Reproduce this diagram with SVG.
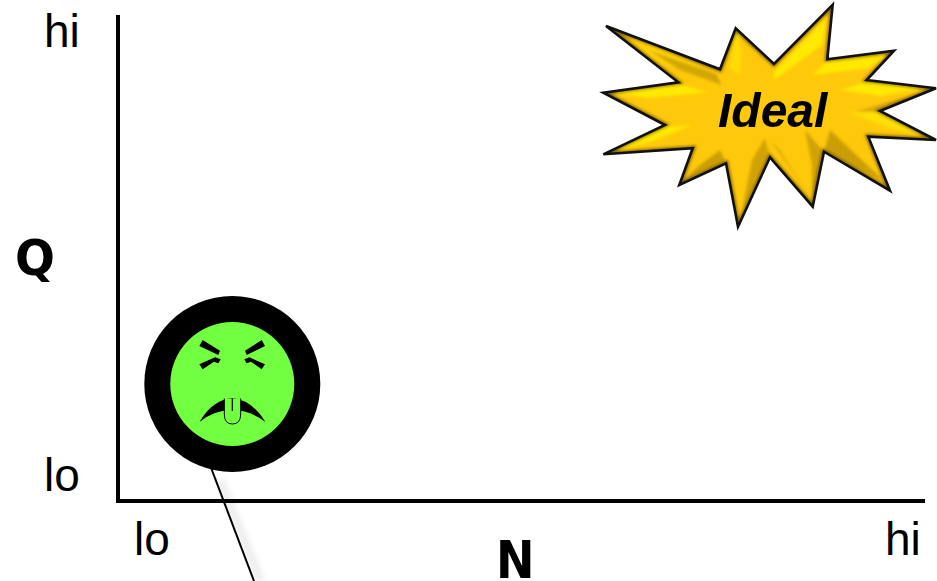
<svg xmlns="http://www.w3.org/2000/svg" width="937" height="581" viewBox="0 0 937 581">
<style>
.t{font-family:"Liberation Sans",Arial,sans-serif;font-size:46px;fill:#000}
.b{font-family:"DejaVu Sans",Verdana,sans-serif;font-weight:bold;fill:#000}
.hl{fill:#FFE900}
.dk{fill:#9A7400}
.ax{stroke:#000;stroke-width:4;fill:none}
</style>
<defs>
<filter id="soft" x="-10%" y="-10%" width="120%" height="120%"><feGaussianBlur stdDeviation="1.8"/></filter>
<filter id="sh" x="-50%" y="-10%" width="200%" height="120%"><feGaussianBlur stdDeviation="3"/></filter>
<polygon id="starShape" points="606,26 720,69.3 735.7,28.3 774,64 832.7,4.7 827.3,59.3 894,50.7 866.7,80 936,88.3 880,111 936,140 868.3,136.7 890,190.7 824,151.7 812.7,206.7 770,157.3 738,226.7 726,163.3 679.3,185 692.7,148.3 603.3,154.3 665,125 603.3,92.7 678.3,82.3"/>
<clipPath id="starClip"><use href="#starShape"/></clipPath>
</defs>
<g id="connectors">
<line x1="220" y1="480" x2="261" y2="581" stroke="#e6e6e6" stroke-width="6" filter="url(#sh)"/>
<line x1="210" y1="465" x2="254" y2="581" stroke="#000" stroke-width="2"/>
</g>
<g id="axes">
<line class="ax" x1="118" y1="15" x2="118" y2="503"/>
<line class="ax" x1="116" y1="501" x2="925" y2="501"/>
<text class="t" x="44" y="47">hi</text>
<text class="t" x="44" y="491">lo</text>
<text class="t" x="134" y="555">lo</text>
<text class="t" x="885" y="555">hi</text>
<text class="b" font-size="47" transform="translate(15 275) scale(1 1.07)">Q</text>
<text class="b" font-size="46" transform="translate(496 578) scale(1 1.13)">N</text>
</g>
<g id="face">
<circle cx="232.3" cy="384" r="88" fill="#000"/>
<circle cx="232.3" cy="384" r="62" fill="#72FF41"/>
<polygon points="202.7,340 220,350.7 218.3,355 199.3,346"/>
<polygon points="199.3,364.3 215,357.3 220.7,359.3 218.3,363.3 214,361.7 202.7,369.3"/>
<polygon points="261.7,340 245,350.7 246.7,355 265,346"/>
<polygon points="265,364.3 249.3,357.3 244.3,359.3 246.7,363.3 251,361.7 261.7,369.3"/>
<path d="M199.5,422Q212,400 232.3,398Q252,400 265.5,422Q250,410 232.3,410Q214,410 199.5,422Z"/>
<path d="M224.3,398.5V414Q224.3,424 232.3,424Q240.7,424 240.7,414V398.5" fill="#72FF41" stroke="#000" stroke-width="1"/>
<line x1="232.3" y1="398.5" x2="232.3" y2="411" stroke="#000" stroke-width="1.2"/>
</g>
<g id="ideal">
<use href="#starShape" fill="#FFC90B"/>
<g clip-path="url(#starClip)">
<g filter="url(#soft)">
<polygon class="hl" points="735.7,28.3 741,50 740,75 730,68" opacity=".6"/>
<polygon class="hl" points="826,18 774,72 774,80 822,45"/>
<polygon class="hl" points="885,56 827,62 812,75 868,68"/>
<polygon class="hl" points="925,88 866,82 840,90 880,96"/>
<polygon class="hl" points="678,84 612,93 650,98 708,92"/>
<polygon class="hl" points="665,127 615,151 650,142 692,125"/>
<polygon class="hl" points="880,113 925,136 890,128 848,112" opacity=".7"/>
<polygon class="hl" points="625,33 700,68 715,82 660,62" opacity=".35"/>
<polygon class="dk" points="648,50 716,74 722,85 680,70" opacity=".45"/>
<polygon class="dk" points="752,160 765,138 770,157 742,210" opacity=".45"/>
<polygon class="dk" points="770,140 780,150 812,200 790,168" opacity=".35"/>
<polygon class="dk" points="805,130 824,152 812,200 812,165" opacity=".45"/>
<polygon class="dk" points="830,130 885,182 824,152" opacity=".5"/>
<polygon class="dk" points="720,150 726,163 680,183 700,165" opacity=".5"/>
<polygon class="dk" points="880,111 930,90 895,100 855,112" opacity=".4"/>
<use href="#starShape" fill="none" stroke="#5c4600" stroke-width="5" opacity=".75"/>
</g>
</g>
<use href="#starShape" fill="none" stroke="#111" stroke-width="2.6"/>
<text x="718" y="127" font-family="Liberation Sans, Arial, sans-serif" font-weight="bold" font-style="italic" font-size="48" fill="#000">Ideal</text>
</g>
</svg>
